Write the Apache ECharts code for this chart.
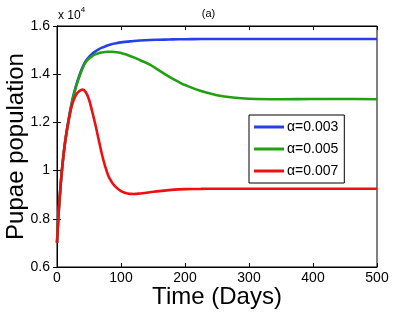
<!DOCTYPE html>
<html><head><meta charset="utf-8">
<script src="https://cdn.jsdelivr.net/npm/echarts@6/dist/echarts.min.js"></script>
<style>html,body{margin:0;padding:0;background:#fff}#c{width:417px;height:313px}</style>
</head><body><div id="c"></div>
<script>
const times = [0,2,4,6,8,10,12,15,18,21,25,30,35,40,45,50,55,60,65,70,75,80,85,90,100,110,120,130,145,160,175,190,200,225,250,275,300,350,400,450,500];
const blueVals = [0.70,0.80,0.88,0.95,1.01,1.06,1.105,1.16,1.21,1.255,1.305,1.355,1.395,1.43,1.455,1.472,1.485,1.495,1.503,1.51,1.515,1.52,1.524,1.527,1.532,1.535,1.538,1.54,1.542,1.543,1.544,1.545,1.545,1.546,1.546,1.546,1.546,1.546,1.546,1.546,1.546];
const greenVals = [0.70,0.80,0.88,0.95,1.01,1.06,1.105,1.16,1.205,1.25,1.30,1.35,1.39,1.425,1.45,1.465,1.475,1.482,1.487,1.49,1.492,1.493,1.493,1.492,1.488,1.48,1.47,1.458,1.44,1.415,1.39,1.368,1.355,1.33,1.313,1.303,1.298,1.296,1.297,1.297,1.296];
const redVals = [0.70,0.80,0.88,0.95,1.01,1.06,1.105,1.16,1.205,1.245,1.285,1.315,1.33,1.336,1.325,1.295,1.245,1.19,1.13,1.07,1.02,0.98,0.955,0.937,0.915,0.905,0.903,0.905,0.91,0.915,0.919,0.922,0.923,0.924,0.925,0.925,0.925,0.925,0.925,0.925,0.925];
const seriesNames = ['α=0.003','α=0.005','α=0.007'];
const colors = ['#2440e8','#22a012','#ee1010'];
const xTicks = [0,100,200,300,400,500];
const yTicks = [0.6,0.8,1,1.2,1.4,1.6];

const font = 'Liberation Sans, Arial, Helvetica, sans-serif';
const pair = v => times.map((t,i)=>[t,v[i]]);
const chart = echarts.init(document.getElementById('c'));
const axisCommon = {
  axisLine:{show:true,lineStyle:{color:'#000',width:1}},
  axisTick:{show:true,inside:true,length:4,lineStyle:{color:'#000'}},
  splitLine:{show:false}
};
chart.setOption({
  animation:false,
  title:{text:'(a)',left:'center',top:3,textStyle:{fontFamily:font,fontSize:11,fontWeight:'normal',color:'#000'}},
  grid:{left:57,right:40,top:26,bottom:46,show:true,borderColor:'#000',borderWidth:1,containLabel:false,outerBoundsMode:'none'},
  legend:{
    orient:'vertical',left:249,top:115,
    data:seriesNames,
    icon:'rect',itemWidth:30,itemHeight:3,itemGap:8,
    borderColor:'#000',borderWidth:1,padding:[5,6,5,5],
    backgroundColor:'#fff',
    textStyle:{fontFamily:font,fontSize:14,color:'#000',padding:[0,0,0,-2]}
  },
  xAxis:[
    Object.assign({type:'value',min:0,max:500,interval:100,
      name:'Time (Days)',nameLocation:'middle',nameGap:18,nameMoveOverlap:false,
      nameTextStyle:{fontFamily:font,fontSize:24,color:'#000'},
      axisLabel:{fontFamily:font,fontSize:14,color:'#000',margin:4,
        formatter:v=>xTicks.includes(v)?String(v):''}},axisCommon),
    Object.assign({type:'value',position:'top',min:0,max:500,interval:100,axisLabel:{show:false}},axisCommon)
  ],
  yAxis:[
    Object.assign({type:'value',min:0.6,max:1.6,interval:0.2,
      name:'Pupae population',nameLocation:'middle',nameGap:29,nameMoveOverlap:false,
      nameTextStyle:{fontFamily:font,fontSize:24,color:'#000'},
      axisLabel:{fontFamily:font,fontSize:14,color:'#000',margin:7,
        formatter:v=>{const r=Math.round(v*10)/10;return yTicks.includes(r)?String(r):'';}}},axisCommon),
    Object.assign({type:'value',position:'right',min:0.6,max:1.6,interval:0.2,axisLabel:{show:false}},axisCommon)
  ],
  graphic:[{
    type:'text',left:58,top:6,
    style:{text:'{a|x 10}{b|4}',rich:{
      a:{fontFamily:font,fontSize:12,fill:'#000',padding:[4,0,0,0]},
      b:{fontFamily:font,fontSize:8,fill:'#000',verticalAlign:'top',padding:[0,0,6,0]}
    }}
  }],
  series:[blueVals,greenVals,redVals].map((v,i)=>({
    name:seriesNames[i],type:'line',data:pair(v),smooth:0.4,
    symbol:'none',lineStyle:{color:colors[i],width:2.6},itemStyle:{color:colors[i]}
  }))
});
</script></body></html>
